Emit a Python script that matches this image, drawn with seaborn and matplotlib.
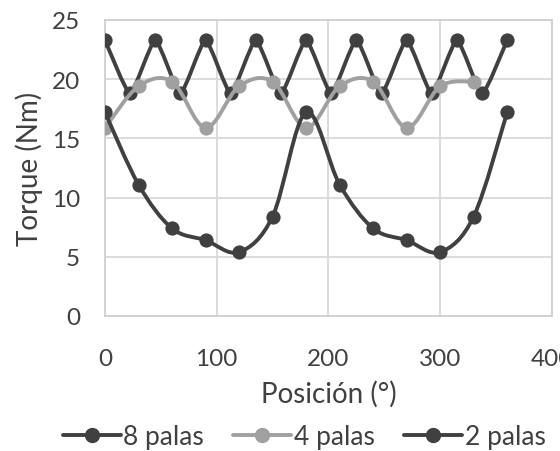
import matplotlib
matplotlib.use("Agg")
import matplotlib.pyplot as plt
import seaborn as sns
import pandas as pd
import numpy as np
from matplotlib.path import Path
from matplotlib.patches import PathPatch
from matplotlib.lines import Line2D

# data
pos_8 = [0, 22.5, 45, 67.5, 90, 112.5, 135, 157.5, 180, 202.5, 225, 247.5, 270, 292.5, 315, 337.5, 360]
torque_8 = [23.3, 18.8, 23.3, 18.8, 23.3, 18.8, 23.3, 18.8, 23.3, 18.8, 23.3, 18.8, 23.3, 18.8, 23.3, 18.8, 23.3]

pos_4 = [0, 30, 60, 90, 120, 150, 180, 210, 240, 270, 300, 330]
torque_4 = [15.9, 19.4, 19.8, 15.9, 19.4, 19.8, 15.9, 19.4, 19.8, 15.9, 19.4, 19.8]

pos_2 = [0, 30, 60, 90, 120, 150, 180, 210, 240, 270, 300, 330, 360]
torque_2 = [17.2, 11.1, 7.4, 6.4, 5.4, 8.4, 17.2, 11.1, 7.4, 6.4, 5.4, 8.4, 17.2]

series = ["8 palas", "4 palas", "2 palas"]
colors = {"8 palas": "#404040", "4 palas": "#a0a0a0", "2 palas": "#404040"}

df = pd.concat([
    pd.DataFrame({"pos": pos_8, "torque": torque_8, "serie": "8 palas"}),
    pd.DataFrame({"pos": pos_4, "torque": torque_4, "serie": "4 palas"}),
    pd.DataFrame({"pos": pos_2, "torque": torque_2, "serie": "2 palas"}),
])

sns.set_theme(style="whitegrid")
plt.rcParams["font.family"] = ["Lato", "DejaVu Sans"]
text_color = "#404040"


def smooth_path(x, y, k=6.0):
    # Excel-style smoothed line: cubic bezier through the points
    pts = np.column_stack([x, y]).astype(float)
    ext = np.vstack([pts[0], pts, pts[-1]])
    verts = [pts[0]]
    codes = [Path.MOVETO]
    for i in range(1, len(ext) - 2):
        p0, p1, p2, p3 = ext[i - 1], ext[i], ext[i + 1], ext[i + 2]
        verts += [p1 + (p2 - p0) / k, p2 - (p3 - p1) / k, p2]
        codes += [Path.CURVE4] * 3
    return Path(verts, codes)


fig = plt.figure(figsize=(5.6, 4.52), dpi=100)
ax = fig.add_axes([0.1875, 0.2987, 0.798, 0.6549])

tension = {"8 palas": 12.0, "4 palas": 6.0, "2 palas": 6.0}
for i, name in enumerate(series):
    sub = df[df["serie"] == name]
    ax.add_patch(PathPatch(smooth_path(sub["pos"], sub["torque"], tension[name]), facecolor="none",
                           edgecolor=colors[name], lw=2.8, zorder=2 + 2 * i, capstyle="round"))
    sns.scatterplot(data=sub, x="pos", y="torque", color=colors[name], s=105,
                    edgecolor=colors[name], linewidth=0, ax=ax, zorder=3 + 2 * i, legend=False)

ax.set_xlim(0, 400)
ax.set_ylim(0, 25)
ax.set_xticks([0, 100, 200, 300, 400])
ax.set_yticks([0, 5, 10, 15, 20, 25])
ax.grid(True, color="#d9d9d9", lw=1.3)
for s in ax.spines.values():
    s.set_color("#d0d0d0")
    s.set_linewidth(1.3)
ax.tick_params(axis="both", length=0, labelsize=17.5, colors=text_color)
ax.tick_params(axis="y", pad=18)
ax.tick_params(axis="x", pad=23)
ax.set_xlabel("Posición (°)", fontsize=20, color=text_color, labelpad=8)
ax.set_ylabel("Torque (Nm)", fontsize=20, color=text_color, labelpad=6)

handles = [Line2D([], [], color=colors[n], lw=2.8, marker="o", markersize=10) for n in series]
fig.legend(handles, series, loc="center", bbox_to_anchor=(0.543, 0.031), ncol=3, frameon=False,
           fontsize=19, handlelength=2.2, handletextpad=0.1, columnspacing=1.1,
           labelcolor=text_color)

fig.savefig("out.png", dpi=100)
